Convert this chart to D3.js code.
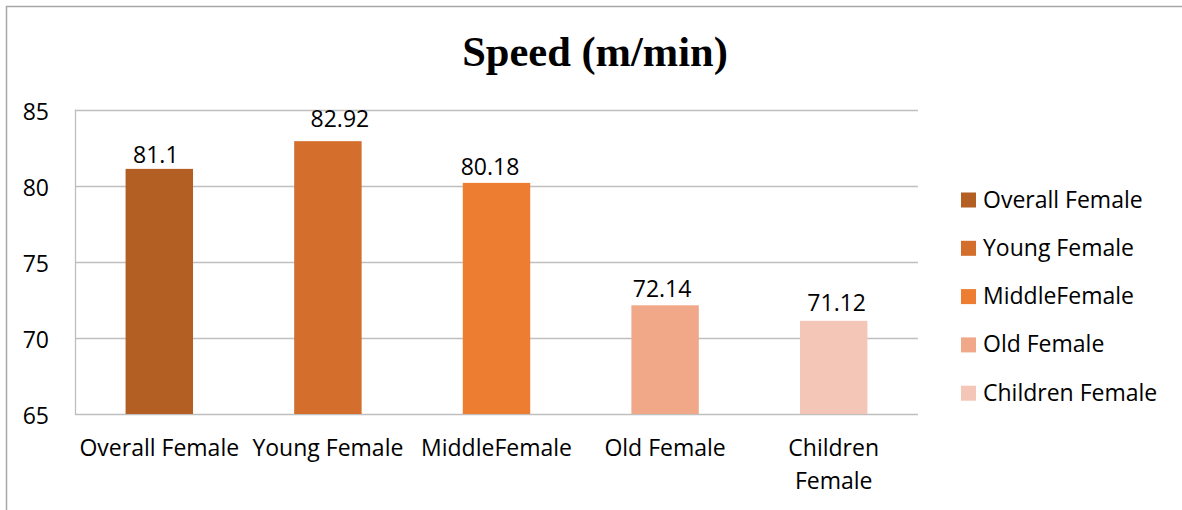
<!DOCTYPE html>
<html>
<head>
<meta charset="utf-8">
<script src="https://cdn.jsdelivr.net/npm/d3@7"></script>
<style>
  html, body { margin: 0; padding: 0; background: #fff; }
  svg { display: block; }
  text { font-family: "Open Sans", Lato, sans-serif; fill: #000; }
</style>
</head>
<body>
<svg id="chart" width="1182" height="510"></svg>
<script>
const categories = ["Overall Female", "Young Female", "MiddleFemale", "Old Female", "Children Female"];
const categoryLines = [["Overall Female"], ["Young Female"], ["MiddleFemale"], ["Old Female"], ["Children", "Female"]];
const speedValues = [81.1, 82.92, 80.18, 72.14, 71.12];
const valueLabels = ["81.1", "82.92", "80.18", "72.14", "71.12"];
const yTicks = [65, 70, 75, 80, 85];
const barColors = ["#B35E23", "#D36E2D", "#ED7D31", "#F0A888", "#F4C6B7"];
const title = "Speed (m/min)";

// layout: manual nudges of the data labels as placed in the original chart (px)
const labelNudgeX = [-3.5, 12, -6.5, -3, 3];
const labelGapY = [6.3, 14, 8, 8, 10];

const svg = d3.select("#chart");

// outer frame
svg.append("rect")
  .attr("x", 6.5).attr("y", 6.5)
  .attr("width", 1200).attr("height", 520)
  .attr("fill", "none").attr("stroke", "#A6A6A6").attr("stroke-width", 1.5);

const plot = { left: 75, right: 918, top: 109.5, bottom: 414 };

const x = d3.scaleBand().domain(categories).range([plot.left, plot.right]).paddingInner(0.6).paddingOuter(0.3);
const y = d3.scaleLinear().domain([65, 85]).range([plot.bottom, plot.top]);

// gridlines
svg.append("g").selectAll("line").data(yTicks).join("line")
  .attr("x1", plot.left).attr("x2", plot.right)
  .attr("y1", d => Math.round(y(d)) + 0.5).attr("y2", d => Math.round(y(d)) + 0.5)
  .attr("stroke", "#BFBFBF").attr("stroke-width", 1.3);

// left axis line
svg.append("line")
  .attr("x1", plot.left + 0.5).attr("x2", plot.left + 0.5)
  .attr("y1", y(85)).attr("y2", y(65) + 1)
  .attr("stroke", "#BFBFBF").attr("stroke-width", 1.3);

// y tick labels
svg.append("g").selectAll("text").data(yTicks).join("text")
  .attr("x", 49).attr("y", d => y(d) + 10)
  .attr("text-anchor", "end")
  .style("font-size", "23px")
  .text(d => d);

// bars
svg.append("g").selectAll("rect").data(speedValues).join("rect")
  .attr("x", (d, i) => x(categories[i]))
  .attr("y", d => y(d))
  .attr("width", x.bandwidth())
  .attr("height", d => y(65) - y(d))
  .attr("fill", (d, i) => barColors[i]);

// value labels
svg.append("g").selectAll("text").data(speedValues).join("text")
  .attr("x", (d, i) => x(categories[i]) + x.bandwidth() / 2 + labelNudgeX[i])
  .attr("y", (d, i) => y(d) - labelGapY[i])
  .attr("text-anchor", "middle")
  .style("font-size", "23px")
  .text((d, i) => valueLabels[i]);

// category labels
const cat = svg.append("g").selectAll("text").data(categories).join("text")
  .attr("text-anchor", "middle")
  .style("font-size", "23px");
cat.each(function(d, i) {
  const cx = x(d) + x.bandwidth() / 2;
  d3.select(this).selectAll("tspan").data(categoryLines[i]).join("tspan")
    .attr("x", cx)
    .attr("y", (l, j) => 456 + j * 33)
    .text(l => l);
});

// title
svg.append("text")
  .attr("x", 595).attr("y", 66)
  .attr("text-anchor", "middle")
  .style("font-family", "'Liberation Serif', 'Times New Roman', serif")
  .style("font-weight", "bold")
  .style("font-size", "42.5px")
  .text(title);

// legend
const legend = svg.append("g").selectAll("g").data(categories).join("g")
  .attr("transform", (d, i) => `translate(961, ${200 + i * 48.3})`);
legend.append("rect")
  .attr("x", 0).attr("y", -7.5).attr("width", 15).attr("height", 15)
  .attr("fill", (d, i) => barColors[i]);
legend.append("text")
  .attr("x", 22).attr("y", 7.5)
  .style("font-size", "23px")
  .text(d => d);
</script>
</body>
</html>
